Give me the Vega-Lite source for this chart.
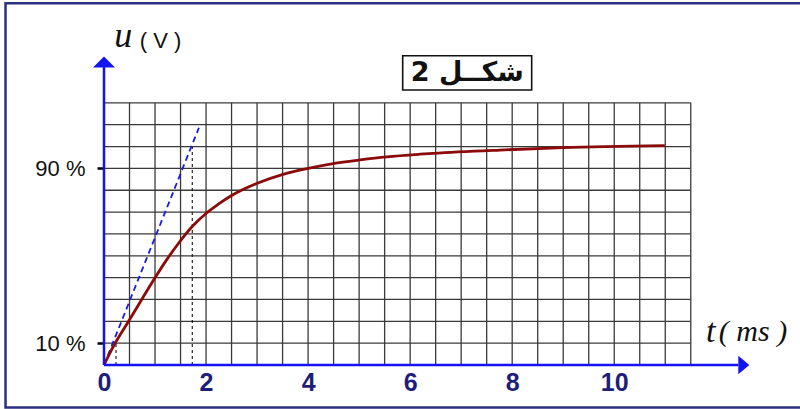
{
  "$schema": "https://vega.github.io/schema/vega-lite/v6.json",
  "width": 648,
  "height": 308,
  "autosize": {"type": "none"},
  "padding": {"left": 104, "top": 57, "right": 48, "bottom": 44},
  "background": "white",
  "config": {"view": {"stroke": null}},
  "datasets": {
    "frame": [{"x": -1.93, "x2": 14.2, "y": -19.4, "y2": 165.6}],
    "vgrid": [
      {"x": 0.5}, {"x": 1.0}, {"x": 1.5}, {"x": 2.0}, {"x": 2.5}, {"x": 3.0},
      {"x": 3.5}, {"x": 4.0}, {"x": 4.5}, {"x": 5.0}, {"x": 5.5}, {"x": 6.0},
      {"x": 6.5}, {"x": 7.0}, {"x": 7.5}, {"x": 8.0}, {"x": 8.5}, {"x": 9.0},
      {"x": 9.5}, {"x": 10.0}, {"x": 10.5}, {"x": 11.0}, {"x": 11.5}
    ],
    "hgrid": [
      {"y": 10}, {"y": 20}, {"y": 30}, {"y": 40}, {"y": 50}, {"y": 60},
      {"y": 70}, {"y": 80}, {"y": 90}, {"y": 100}, {"y": 110}, {"y": 120}
    ],
    "dotted": [
      {"x": 0.235, "y": 0, "y2": 10},
      {"x": 1.73, "y": 0, "y2": 100}
    ],
    "tangent": [
      {"x": 0, "y": 0},
      {"x": 1.86, "y": 108.6}
    ],
    "curve": [
      {"x": 0, "y": 0},
      {"x": 0.216, "y": 9.9},
      {"x": 0.476, "y": 19.8},
      {"x": 1.0, "y": 39.9},
      {"x": 1.2, "y": 47.2},
      {"x": 1.425, "y": 54.6},
      {"x": 1.738, "y": 63.6},
      {"x": 2.01, "y": 69.6},
      {"x": 2.24, "y": 73.6},
      {"x": 2.5, "y": 77.6},
      {"x": 2.99, "y": 83.1},
      {"x": 3.51, "y": 87.3},
      {"x": 4.0, "y": 90.0},
      {"x": 4.49, "y": 92.2},
      {"x": 5.02, "y": 93.9},
      {"x": 5.54, "y": 95.3},
      {"x": 6.19, "y": 96.5},
      {"x": 6.45, "y": 96.9},
      {"x": 7.76, "y": 98.4},
      {"x": 9.0, "y": 99.5},
      {"x": 10.99, "y": 100.4}
    ],
    "axes": [
      {"x": 0, "y": 0, "x2": 12.43, "y2": 0},
      {"x": 0, "y": 0, "x2": 0, "y2": 136.4}
    ],
    "arrowx": [{"x": 12.54, "y": 0}],
    "arrowy": [{"x": 0, "y": 138.7}],
    "box": [{"x": 5.854, "x2": 8.382, "y": 125.9, "y2": 141.6}],
    "title": [{"x": 7.118, "y": 133.7, "text": "شكــل 2"}],
    "ulabel": [{"x": 0.2, "y": 145.4, "text": "u"}],
    "vlabel": [{"x": 0.7, "y": 145.1, "text": "( V )"}],
    "tlabel": [{"x": 11.8, "y": 10.5, "text": "t"}],
    "mslabel": [{"x": 12.05, "y": 11.2, "text": "( ms )"}]
  },
  "layer": [
    {
      "data": {"name": "frame"},
      "mark": {"type": "rect", "fill": null, "stroke": "#2b2f7f", "strokeWidth": 2.5},
      "encoding": {
        "x": {"field": "x", "type": "quantitative", "scale": {"domain": [0, 12.7], "nice": false, "zero": false},
          "axis": {"values": [0, 2, 4, 6, 8, 10], "title": null, "domain": false, "ticks": false, "grid": false,
            "labelFont": "Liberation Sans", "labelFontSize": 25, "labelFontWeight": "bold", "labelColor": "#1e1e7a",
            "labelPadding": 5, "labelFlush": false}},
        "x2": {"field": "x2"},
        "y": {"field": "y", "type": "quantitative", "scale": {"domain": [0, 141], "nice": false, "zero": false},
          "axis": {"values": [10, 90], "title": null, "domain": false, "ticks": true, "tickSize": 7, "tickColor": "#000000", "tickWidth": 2.5, "grid": false,
            "labelExpr": "datum.value + ' %'", "labelFont": "Liberation Sans", "labelFontSize": 22, "labelColor": "#111111",
            "labelPadding": 12, "labelFlush": false}},
        "y2": {"field": "y2"}
      }
    },
    {
      "data": {"name": "vgrid"},
      "mark": {"type": "rule", "color": "#3a3a3a", "strokeWidth": 1.3},
      "encoding": {
        "x": {"field": "x", "type": "quantitative"},
        "y": {"datum": 0, "type": "quantitative"},
        "y2": {"datum": 120}
      }
    },
    {
      "data": {"name": "hgrid"},
      "mark": {"type": "rule", "color": "#3a3a3a", "strokeWidth": 1.3},
      "encoding": {
        "y": {"field": "y", "type": "quantitative"},
        "x": {"datum": 0, "type": "quantitative"},
        "x2": {"datum": 11.5}
      }
    },
    {
      "data": {"name": "dotted"},
      "mark": {"type": "rule", "color": "#111111", "strokeWidth": 1.1, "strokeDash": [3, 3]},
      "encoding": {
        "x": {"field": "x", "type": "quantitative"},
        "y": {"field": "y", "type": "quantitative"},
        "y2": {"field": "y2"}
      }
    },
    {
      "data": {"name": "tangent"},
      "mark": {"type": "line", "color": "#1a1ae0", "strokeWidth": 1.8, "strokeDash": [6, 4]},
      "encoding": {
        "x": {"field": "x", "type": "quantitative"},
        "y": {"field": "y", "type": "quantitative"}
      }
    },
    {
      "data": {"name": "curve"},
      "mark": {"type": "line", "color": "#8b0a0a", "strokeWidth": 2.8, "interpolate": "monotone"},
      "encoding": {
        "x": {"field": "x", "type": "quantitative"},
        "y": {"field": "y", "type": "quantitative"}
      }
    },
    {
      "data": {"name": "axes"},
      "mark": {"type": "rule", "color": "#1414f0", "strokeWidth": 2.5},
      "encoding": {
        "x": {"field": "x", "type": "quantitative"},
        "x2": {"field": "x2"},
        "y": {"field": "y", "type": "quantitative"},
        "y2": {"field": "y2"}
      }
    },
    {
      "data": {"name": "arrowx"},
      "mark": {"type": "point", "shape": "M-0.5,-0.85L0.5,0L-0.5,0.85Z", "size": 484, "filled": true, "color": "#1414f0", "opacity": 1},
      "encoding": {
        "x": {"field": "x", "type": "quantitative"},
        "y": {"field": "y", "type": "quantitative"}
      }
    },
    {
      "data": {"name": "arrowy"},
      "mark": {"type": "point", "shape": "M-1,0.5L1,0.5L0,-0.5Z", "size": 484, "filled": true, "color": "#1414f0", "opacity": 1},
      "encoding": {
        "x": {"field": "x", "type": "quantitative"},
        "y": {"field": "y", "type": "quantitative"}
      }
    },
    {
      "data": {"name": "box"},
      "mark": {"type": "rect", "fill": "white", "stroke": "#111111", "strokeWidth": 1.6},
      "encoding": {
        "x": {"field": "x", "type": "quantitative"},
        "x2": {"field": "x2"},
        "y": {"field": "y", "type": "quantitative"},
        "y2": {"field": "y2"}
      }
    },
    {
      "data": {"name": "title"},
      "mark": {"type": "text", "font": "DejaVu Sans", "fontSize": 27, "fontWeight": "bold", "color": "#111111", "align": "center", "baseline": "middle"},
      "encoding": {
        "x": {"field": "x", "type": "quantitative"},
        "y": {"field": "y", "type": "quantitative"},
        "text": {"field": "text"}
      }
    },
    {
      "data": {"name": "ulabel"},
      "mark": {"type": "text", "font": "Liberation Serif", "fontSize": 36, "fontStyle": "italic", "color": "#111111", "align": "left", "baseline": "alphabetic"},
      "encoding": {
        "x": {"field": "x", "type": "quantitative"},
        "y": {"field": "y", "type": "quantitative"},
        "text": {"field": "text"}
      }
    },
    {
      "data": {"name": "vlabel"},
      "mark": {"type": "text", "font": "Liberation Sans", "fontSize": 22, "color": "#111111", "align": "left", "baseline": "alphabetic"},
      "encoding": {
        "x": {"field": "x", "type": "quantitative"},
        "y": {"field": "y", "type": "quantitative"},
        "text": {"field": "text"}
      }
    },
    {
      "data": {"name": "tlabel"},
      "mark": {"type": "text", "font": "Liberation Serif", "fontSize": 34, "fontStyle": "italic", "color": "#111111", "align": "left", "baseline": "alphabetic"},
      "encoding": {
        "x": {"field": "x", "type": "quantitative"},
        "y": {"field": "y", "type": "quantitative"},
        "text": {"field": "text"}
      }
    },
    {
      "data": {"name": "mslabel"},
      "mark": {"type": "text", "font": "Liberation Serif", "fontSize": 30, "fontStyle": "italic", "color": "#111111", "align": "left", "baseline": "alphabetic"},
      "encoding": {
        "x": {"field": "x", "type": "quantitative"},
        "y": {"field": "y", "type": "quantitative"},
        "text": {"field": "text"}
      }
    }
  ]
}
